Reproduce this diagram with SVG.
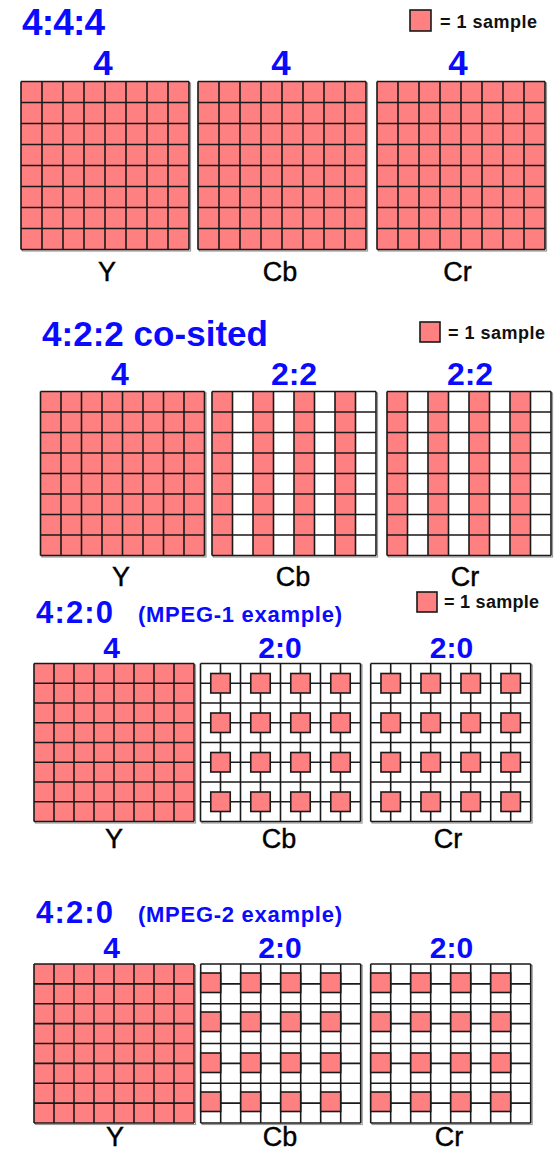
<svg xmlns="http://www.w3.org/2000/svg" xmlns:xlink="http://www.w3.org/1999/xlink" width="557" height="1150" viewBox="0 0 557 1150">
<style>
.pk{fill:#ff8080}
.wh{fill:#ffffff}
.ln{fill:none;stroke:#1a1a1a;stroke-width:1.6}
.sq{fill:#ff8080;stroke:#1a1a1a;stroke-width:1.6}
.sh{fill:none;stroke:#9a9a9a;stroke-width:1.2}
.t{font-family:"Liberation Sans",Arial,sans-serif;font-weight:bold;fill:#0a0aff}
.ctr{text-anchor:middle}
.lb{font-family:"Liberation Sans",Arial,sans-serif;fill:#000;text-anchor:middle;font-size:27px;stroke:#000;stroke-width:0.4}
.lg{font-family:"Liberation Sans",Arial,sans-serif;font-weight:bold;font-size:18px;fill:#111}
</style>
<defs>
<path id="G1" class="ln" d="M0 0V168M21 0V168M42 0V168M63 0V168M84 0V168M105 0V168M126 0V168M147 0V168M168 0V168M0 0H168M0 21H168M0 42H168M0 63H168M0 84H168M0 105H168M0 126H168M0 147H168M0 168H168"/>
<path id="G2" class="ln" d="M0 0V164M20.5 0V164M41 0V164M61.5 0V164M82 0V164M102.5 0V164M123 0V164M143.5 0V164M164 0V164M0 0H164M0 20.5H164M0 41H164M0 61.5H164M0 82H164M0 102.5H164M0 123H164M0 143.5H164M0 164H164"/>
<path id="G3" class="ln" d="M0 0V158M20 0V158M40 0V158M60 0V158M80 0V158M100 0V158M120 0V158M140 0V158M160 0V158M0 0H160M0 19.75H160M0 39.5H160M0 59.25H160M0 79H160M0 98.75H160M0 118.5H160M0 138.25H160M0 158H160"/>
<path id="G4" class="ln" d="M0 0V159M20 0V159M40 0V159M60 0V159M80 0V159M100 0V159M120 0V159M140 0V159M160 0V159M0 0H160M0 19.875H160M0 39.75H160M0 59.625H160M0 79.5H160M0 99.375H160M0 119.25H160M0 139.125H160M0 159H160"/>
<g id="g1full"><rect class="sh" x="1.5" y="1.5" width="168" height="168"/><rect class="pk" width="168" height="168"/><use xlink:href="#G1"/></g>
<g id="g2full"><rect class="sh" x="1.5" y="1.5" width="164" height="164"/><rect class="pk" width="164" height="164"/><use xlink:href="#G2"/></g>
<g id="g2col"><rect class="sh" x="1.5" y="1.5" width="164" height="164"/><rect class="wh" width="164" height="164"/>
<rect class="pk" x="0" width="20.5" height="164"/><rect class="pk" x="41" width="20.5" height="164"/><rect class="pk" x="82" width="20.5" height="164"/><rect class="pk" x="123" width="20.5" height="164"/>
<use xlink:href="#G2"/></g>
<g id="g3full"><rect class="sh" x="1.5" y="1.5" width="160" height="158"/><rect class="pk" width="160" height="158"/><use xlink:href="#G3"/></g>
<g id="g3row"><rect class="sq" x="10.25" width="19.5" height="19.5"/><rect class="sq" x="50.25" width="19.5" height="19.5"/><rect class="sq" x="90.25" width="19.5" height="19.5"/><rect class="sq" x="130.25" width="19.5" height="19.5"/></g>
<g id="g3sub"><rect class="sh" x="1.5" y="1.5" width="160" height="158"/><rect class="wh" width="160" height="158"/><use xlink:href="#G3"/>
<use xlink:href="#g3row" y="10"/><use xlink:href="#g3row" y="49.5"/><use xlink:href="#g3row" y="89"/><use xlink:href="#g3row" y="128.5"/></g>
<g id="g4full"><rect class="sh" x="1.5" y="1.5" width="160" height="159"/><rect class="pk" width="160" height="159"/><use xlink:href="#G4"/></g>
<g id="g4row"><rect class="sq" x="0" width="20" height="19.5"/><rect class="sq" x="40" width="20" height="19.5"/><rect class="sq" x="80" width="20" height="19.5"/><rect class="sq" x="120" width="20" height="19.5"/></g>
<g id="g4sub"><rect class="sh" x="1.5" y="1.5" width="160" height="159"/><rect class="wh" width="160" height="159"/><use xlink:href="#G4"/>
<use xlink:href="#g4row" y="9"/><use xlink:href="#g4row" y="48"/><use xlink:href="#g4row" y="89"/><use xlink:href="#g4row" y="128"/></g>
</defs>
<rect width="557" height="1150" fill="#ffffff"/>

<g id="sec444">
<text class="t" x="22" y="35" font-size="37" textLength="83">4:4:4</text>
<g id="legend444"><rect class="sq" x="410" y="10" width="21" height="21"/><text class="lg" x="440" y="28" textLength="97">= 1 sample</text></g>
<g id="Y444"><text class="t ctr" x="103" y="75" font-size="35">4</text><use xlink:href="#g1full" x="21" y="81.5"/><text class="lb" x="107" y="281">Y</text></g>
<g id="Cb444"><text class="t ctr" x="281" y="75" font-size="35">4</text><use xlink:href="#g1full" x="198" y="81.5"/><text class="lb" x="280" y="281">Cb</text></g>
<g id="Cr444"><text class="t ctr" x="458" y="75" font-size="35">4</text><use xlink:href="#g1full" x="377" y="81.5"/><text class="lb" x="457.5" y="281">Cr</text></g>
</g>

<g id="sec422">
<text class="t" x="42" y="346" font-size="35" textLength="226">4:2:2 co-sited</text>
<g id="legend422"><rect class="sq" x="420" y="322" width="20" height="20"/><text class="lg" x="448" y="339" textLength="97">= 1 sample</text></g>
<g id="Y422"><text class="t ctr" x="120" y="385" font-size="32">4</text><use xlink:href="#g2full" x="40.5" y="391.5"/><text class="lb" x="121" y="586">Y</text></g>
<g id="Cb422"><text class="t ctr" x="294" y="385" font-size="32">2:2</text><use xlink:href="#g2col" x="212" y="391.5"/><text class="lb" x="293" y="586">Cb</text></g>
<g id="Cr422"><text class="t ctr" x="470" y="385" font-size="32">2:2</text><use xlink:href="#g2col" x="387" y="391.5"/><text class="lb" x="465" y="586">Cr</text></g>
</g>

<g id="sec420m1">
<text class="t" x="36" y="623" font-size="31" textLength="77">4:2:0</text>
<text class="t" x="138" y="622" font-size="22" textLength="204">(MPEG-1 example)</text>
<g id="legend420m1"><rect class="sq" x="417" y="592" width="20" height="20"/><text class="lg" x="444" y="608" textLength="95">= 1 sample</text></g>
<g id="Y420m1"><text class="t ctr" x="111.5" y="658" font-size="30">4</text><use xlink:href="#g3full" x="34" y="663.5"/><text class="lb" x="114" y="848">Y</text></g>
<g id="Cb420m1"><text class="t ctr" x="280" y="658" font-size="30">2:0</text><use xlink:href="#g3sub" x="200.5" y="663.5"/><text class="lb" x="279" y="848">Cb</text></g>
<g id="Cr420m1"><text class="t ctr" x="451.5" y="658" font-size="30">2:0</text><use xlink:href="#g3sub" x="370.7" y="663.5"/><text class="lb" x="448" y="848">Cr</text></g>
</g>

<g id="sec420m2">
<text class="t" x="36" y="923" font-size="31" textLength="77">4:2:0</text>
<text class="t" x="138" y="922" font-size="22" textLength="204">(MPEG-2 example)</text>
<g id="Y420m2"><text class="t ctr" x="111.5" y="958" font-size="30">4</text><use xlink:href="#g4full" x="34" y="964"/><text class="lb" x="115" y="1146" font-size="26">Y</text></g>
<g id="Cb420m2"><text class="t ctr" x="280" y="958" font-size="30">2:0</text><use xlink:href="#g4sub" x="200.7" y="964"/><text class="lb" x="280" y="1146" font-size="26">Cb</text></g>
<g id="Cr420m2"><text class="t ctr" x="451.5" y="958" font-size="30">2:0</text><use xlink:href="#g4sub" x="370.7" y="964"/><text class="lb" x="449" y="1146" font-size="26">Cr</text></g>
</g>
</svg>
